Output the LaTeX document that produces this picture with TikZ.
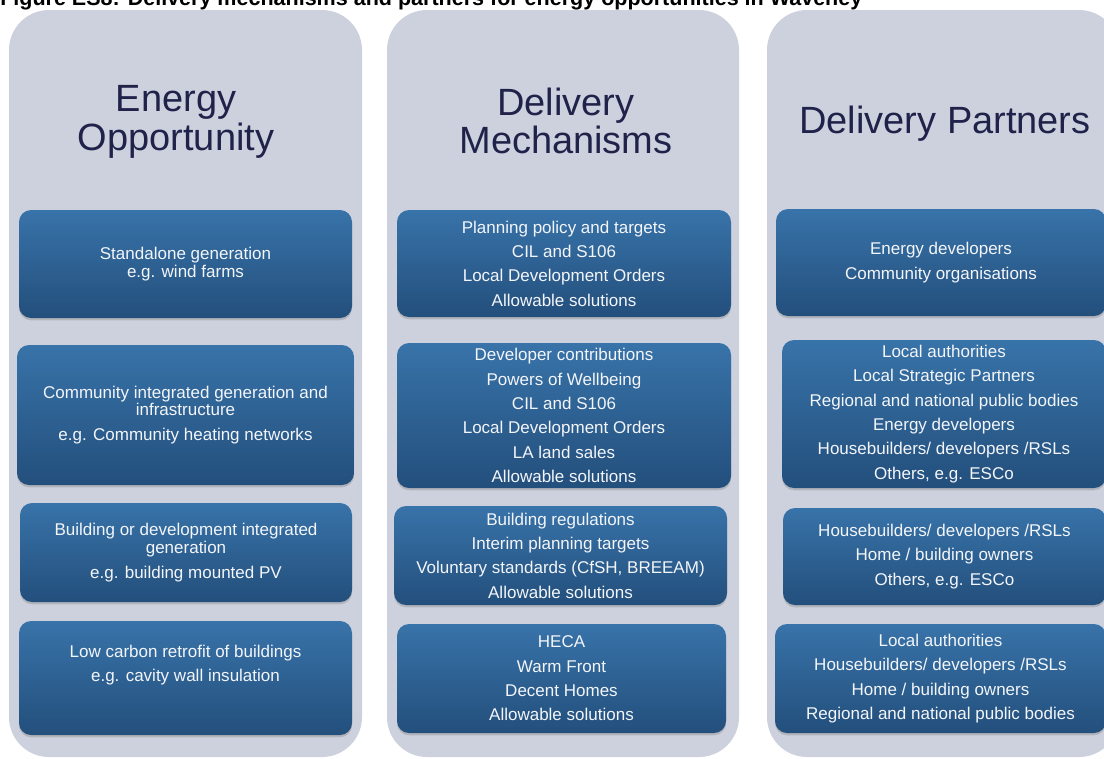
\documentclass[tikz,border=0pt]{standalone}
\usepackage{fontspec}
\setmainfont{Liberation Sans}
\usetikzlibrary{shadows}
\definecolor{wvPanel}{HTML}{CDD1DD}
\definecolor{wvHead}{HTML}{20224A}
\definecolor{wvBlueTop}{HTML}{3873A9}
\definecolor{wvBlueBot}{HTML}{234F7C}
\definecolor{wvText}{HTML}{F3F5F9}
\tikzset{
  wv panel/.style={fill=wvPanel, rounded corners=1cm, inner sep=0pt},
  wv head/.style={font=\fontsize{27}{27.5}\selectfont, text=wvHead, align=center, inner sep=0pt},
  wv cell/.style={
    rounded corners=3mm,
    top color=wvBlueTop, bottom color=wvBlueBot,
    drop shadow={shadow xshift=0pt, shadow yshift=-1.6pt, opacity=.35},
    text=wvText, align=center, inner sep=0pt,
    font=\fontsize{12.1}{17.3}\selectfont
  },
  wv cell wrap/.style={wv cell, font=\fontsize{12.1}{12.4}\selectfont},
  wv size/.style 2 args={minimum width=#1*0.025cm, minimum height=#2*0.025cm},
  wv title/.style={font=\bfseries\fontsize{15.3}{16}\selectfont, inner sep=0pt}
}

\begin{document}
\begin{tikzpicture}[x=0.025cm, y=-0.025cm]
  \useasboundingbox (0,0) rectangle (1104,758);

  % three grey columns
  \node[wv panel, wv size={353}{747}] (colOpp) at (185.5,383.5) {};
  \node[wv panel, wv size={352}{747}] (colMech) at (563,383.5) {};
  \node[wv panel, wv size={352}{747}] (colPart) at (943,383.5) {};

  % column headings
  \node[wv head] (headOpp) at (176,122) {Energy\\Opportunity};
  \node[wv head] (headMech) at (566,121) {Delivery\\Mechanisms};
  \node[wv head, anchor=base] (headPart) at (945,133) {Delivery Partners};

  % energy opportunities
  \node[wv cell wrap, wv size={333}{108}] (opp1) at (185.5,264)
    {Standalone generation\\e.g. wind farms};
  \node[wv cell wrap, wv size={337}{140}] (opp2) at (185.5,415)
    {Community integrated generation and\\infrastructure\\[5.5pt]e.g. Community heating networks};
  \node[wv cell wrap, wv size={332}{99}] (opp3) at (186,552.5)
    {Building or development integrated\\generation\\[5.5pt]e.g. building mounted PV};
  \node[wv cell wrap, wv size={333}{114}] (opp4) at (185.5,678)
    {Low carbon retrofit of buildings\\[4.3pt]e.g. cavity wall insulation\\[0.3cm]};

  % delivery mechanisms
  \node[wv cell, wv size={334}{107}] (mech1) at (564,263.5)
    {Planning policy and targets\\CIL and S106\\Local Development Orders\\Allowable solutions};
  \node[wv cell, wv size={334}{145}] (mech2) at (564,415.5)
    {Developer contributions\\Powers of Wellbeing\\CIL and S106\\Local Development Orders\\LA land sales\\Allowable solutions};
  \node[wv cell, wv size={333}{99}] (mech3) at (560.5,555.5)
    {Building regulations\\Interim planning targets\\Voluntary standards (CfSH, BREEAM)\\Allowable solutions};
  \node[wv cell, wv size={329}{109}] (mech4) at (561.5,678.5)
    {HECA\\Warm Front\\Decent Homes\\Allowable solutions};

  % delivery partners
  \node[wv cell, wv size={330}{107}] (part1) at (941,262.5)
    {Energy developers\\Community organisations};
  \node[wv cell, wv size={324}{148}] (part2) at (944,414)
    {Local authorities\\Local Strategic Partners\\Regional and national public bodies\\Energy developers\\Housebuilders/ developers /RSLs\\Others, e.g. ESCo};
  \node[wv cell, wv size={323}{97}] (part3) at (944.5,556.5)
    {Housebuilders/ developers /RSLs\\Home / building owners\\Others, e.g. ESCo};
  \node[wv cell, wv size={331}{109}] (part4) at (940.5,678.5)
    {Local authorities\\Housebuilders/ developers /RSLs\\Home / building owners\\Regional and national public bodies};

  \node[wv title, anchor=base west] (title) at (0,5.5)
    {Figure ES8: Delivery mechanisms and partners for energy opportunities in Waveney};
\end{tikzpicture}
\end{document}
